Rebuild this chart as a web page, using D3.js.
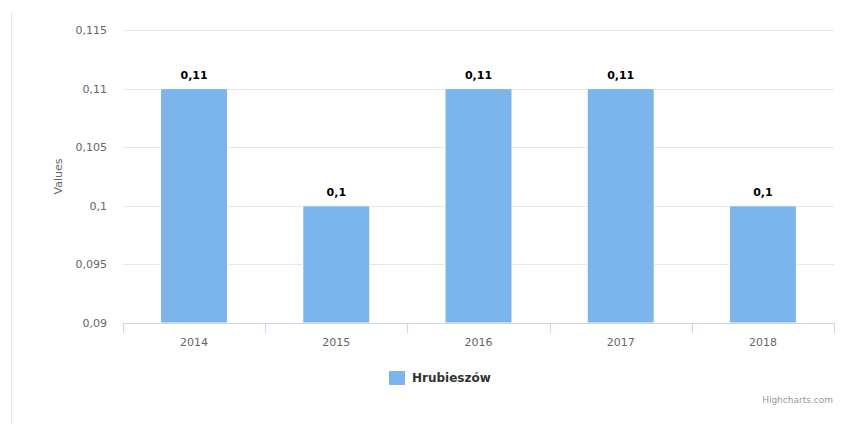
<!DOCTYPE html>
<html>
<head>
<meta charset="utf-8">
<script src="https://d3js.org/d3.v7.min.js"></script>
<style>
  body { margin: 0; background: #fff; }
  text { font-family: "DejaVu Sans", sans-serif; }
</style>
</head>
<body>
<div id="chart"></div>
<script>
var years = ["2014", "2015", "2016", "2017", "2018"];
var values = [0.11, 0.1, 0.11, 0.11, 0.1];
var yTicks = [0.09, 0.095, 0.1, 0.105, 0.11, 0.115];
var seriesName = "Hrubieszów";

var W = 851, H = 424;
var svg = d3.select("#chart").append("svg").attr("width", W).attr("height", H);

// left frame line
svg.append("line").attr("x1", 11.5).attr("x2", 11.5).attr("y1", 12).attr("y2", H)
  .attr("stroke", "#e6e6e6").attr("stroke-width", 1);

var x = d3.scaleBand().domain(years).range([123, 834]).paddingInner(0).paddingOuter(0);
var y = d3.scaleLinear().domain([0.09, 0.115]).range([323, 30]);
var fmt = function (v) { return String(+v.toFixed(3)).replace(".", ","); };

// grid
svg.append("g").selectAll("line").data(yTicks.slice(1)).enter().append("line")
  .attr("x1", 123).attr("x2", 834)
  .attr("y1", function (d) { return Math.round(y(d)) + 0.5; })
  .attr("y2", function (d) { return Math.round(y(d)) + 0.5; })
  .attr("stroke", "#e6e6e6");

// y labels
svg.append("g").selectAll("text").data(yTicks).enter().append("text")
  .attr("x", 107).attr("y", function (d) { return y(d) + 4; })
  .attr("text-anchor", "end").attr("font-size", 11).attr("fill", "#666")
  .text(fmt);

svg.append("text")
  .attr("transform", "translate(62," + y(0.1025) + ") rotate(-90)")
  .attr("text-anchor", "middle").attr("font-size", 11).attr("fill", "#666")
  .text("Values");

// bars
var bw = 67;
svg.append("g").selectAll("rect").data(values).enter().append("rect")
  .attr("x", function (d, i) { return x(years[i]) + x.bandwidth() / 2 - bw / 2; })
  .attr("y", function (d) { return y(d); })
  .attr("width", bw)
  .attr("height", function (d) { return y(0.09) - y(d); })
  .attr("fill", "#7cb5ec").attr("stroke", "#fff").attr("stroke-width", 1);

// data labels
svg.append("g").selectAll("text").data(values).enter().append("text")
  .attr("x", function (d, i) { return x(years[i]) + x.bandwidth() / 2; })
  .attr("y", function (d) { return y(d) - 10; })
  .attr("text-anchor", "middle").attr("font-size", 11).attr("font-weight", "bold")
  .attr("fill", "#000").text(fmt);

// x axis
svg.append("line").attr("x1", 123).attr("x2", 834).attr("y1", 323.5).attr("y2", 323.5)
  .attr("stroke", "#ccd6eb");
var bounds = years.map(function (d) { return x(d); }).concat([834]);
svg.append("g").selectAll("line").data(bounds).enter().append("line")
  .attr("x1", function (d) { return Math.round(d) + 0.5; })
  .attr("x2", function (d) { return Math.round(d) + 0.5; })
  .attr("y1", 323).attr("y2", 333).attr("stroke", "#ccd6eb");
svg.append("g").selectAll("text").data(years).enter().append("text")
  .attr("x", function (d) { return x(d) + x.bandwidth() / 2; })
  .attr("y", 346).attr("text-anchor", "middle").attr("font-size", 11).attr("fill", "#666")
  .text(function (d) { return d; });

// legend
svg.append("rect").attr("x", 389).attr("y", 371).attr("width", 16).attr("height", 14)
  .attr("fill", "#7cb5ec");
svg.append("text").attr("x", 412).attr("y", 382).attr("font-size", 12).attr("font-weight", "bold")
  .attr("fill", "#333").text(seriesName);

// credits
svg.append("text").attr("x", 833).attr("y", 403).attr("text-anchor", "end")
  .attr("font-size", 9).attr("fill", "#999").text("Highcharts.com");
</script>
</body>
</html>
